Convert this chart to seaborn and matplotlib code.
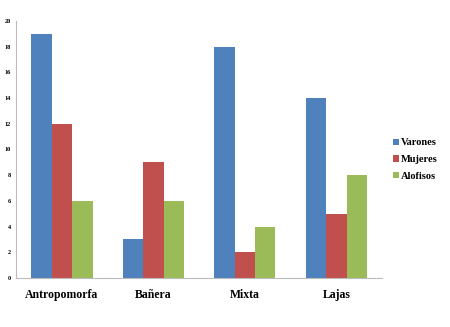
import pandas as pd
import seaborn as sns
import matplotlib.pyplot as plt
from matplotlib.ticker import FixedLocator

# Data
categories = ["Antropomorfa", "Bañera", "Mixta", "Lajas"]
groups = ["Varones", "Mujeres", "Alofisos"]
varones = [19, 3, 18, 14]
mujeres = [12, 9, 2, 5]
alofisos = [6, 6, 4, 8]

df = pd.DataFrame({
    "tipo": categories * 3,
    "grupo": [groups[0]] * 4 + [groups[1]] * 4 + [groups[2]] * 4,
    "valor": varones + mujeres + alofisos,
})

sns.set_style("white")
plt.rcParams['font.family'] = ['Liberation Serif', 'DejaVu Serif']
plt.rcParams['text.color'] = 'black'
plt.rcParams['xtick.color'] = 'black'
plt.rcParams['ytick.color'] = 'black'

fig = plt.figure(figsize=(4.5, 3.27), dpi=100)
ax = fig.add_axes([0.036, 0.150, 0.813, 0.786])

palette = ["#4F81BD", "#C0504D", "#9BBB59"]
sns.barplot(data=df, x="tipo", y="valor", hue="grupo", palette=palette,
            width=0.67, saturation=1, ax=ax, edgecolor="none")

ax.set_ylim(0, 20)
ax.set_xlim(-0.5, 3.5)
ax.set_yticks(range(0, 21, 2))
ax.tick_params(axis='y', labelsize=4.5, length=2, color="#999999",
               labelcolor="black", pad=2)
for t in ax.get_yticklabels():
    t.set_fontweight("bold")
ax.tick_params(axis='x', which='major', length=0, labelsize=8.5,
               labelcolor="black", pad=8)
for t in ax.get_xticklabels():
    t.set_fontweight("bold")
ax.xaxis.set_minor_locator(FixedLocator([-0.5, 0.5, 1.5, 2.5, 3.5]))
ax.tick_params(axis='x', which='minor', length=4, color="#999999", direction='out')
ax.set_xlabel("")
ax.set_ylabel("")

for s in ["top", "right"]:
    ax.spines[s].set_visible(False)
for s in ["left", "bottom"]:
    ax.spines[s].set_color("#BBBBBB")
    ax.spines[s].set_linewidth(0.8)

leg = ax.legend(loc="center left", bbox_to_anchor=(1.005, 0.46), frameon=False,
                prop={"size": 7.5, "weight": "bold"}, handlelength=0.55,
                handleheight=0.55, handletextpad=0.2, labelspacing=0.75)
for t in leg.get_texts():
    t.set_color("black")

fig.savefig("out.png", dpi=100)
